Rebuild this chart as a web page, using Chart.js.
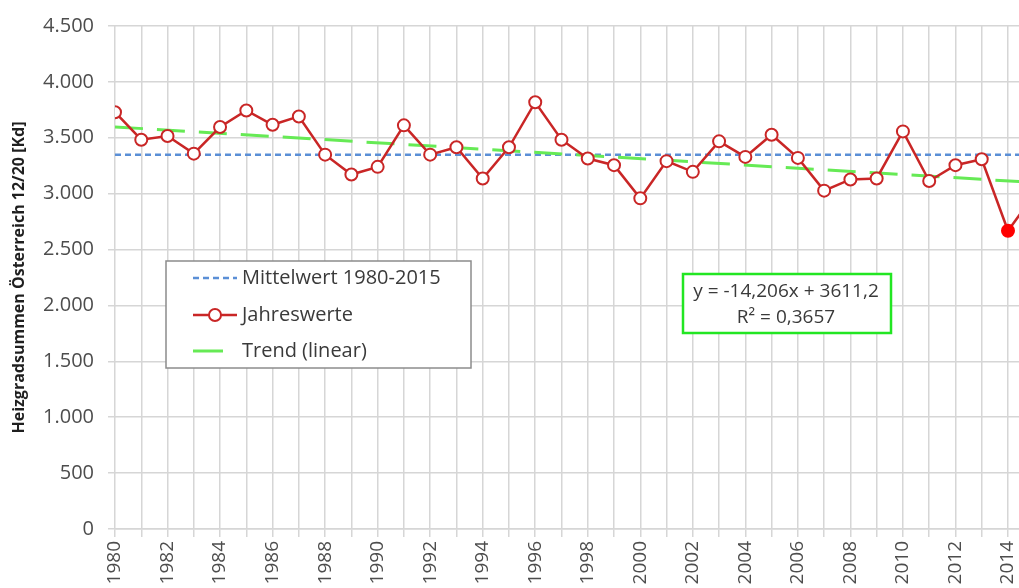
<!DOCTYPE html>
<html>
<head>
<meta charset="utf-8">
<script src="https://cdn.jsdelivr.net/npm/chart.js@4/dist/chart.umd.min.js"></script>
<style>
  html, body { margin: 0; padding: 0; background: #fff; overflow: hidden; }
  #wrap { width: 1037px; height: 588px; position: relative; }
</style>
</head>
<body>
<div id="wrap"><canvas id="chart"></canvas></div>
<script>
// DATA
const years = [1980, 1981, 1982, 1983, 1984, 1985, 1986, 1987, 1988, 1989,
               1990, 1991, 1992, 1993, 1994, 1995, 1996, 1997, 1998, 1999,
               2000, 2001, 2002, 2003, 2004, 2005, 2006, 2007, 2008, 2009,
               2010, 2011, 2012, 2013, 2014, 2015];
const jahreswerte = [3729, 3483, 3516, 3358, 3596, 3744, 3616, 3691, 3349, 3171,
                     3240, 3611, 3349, 3415, 3136, 3415, 3818, 3483, 3314, 3255,
                     2958, 3291, 3195, 3468, 3329, 3527, 3320, 3027, 3127, 3136,
                     3557, 3113, 3255, 3308, 2668, 2991];
const mittelwert = 3349;              // Mittelwert 1980-2015
const trendYears = [1980, 2015];
const trendValues = [3597, 3100];     // y = -14,206x + 3611,2
const highlightYear = 2014;
const yTicks = [0, 500, 1000, 1500, 2000, 2500, 3000, 3500, 4000, 4500];
const legendLabels = ['Mittelwert 1980-2015', 'Jahreswerte', 'Trend (linear)'];
const equationLines = ['y = -14,206x + 3611,2', 'R\u00B2 = 0,3657'];

const RED = '#c92626';
const BLUE = '#5b8fd6';
const GREEN = '#66ea55';

function fmtDe(v) {
    return String(v).replace(/\B(?=(\d{3})+(?!\d))/g, '.');
}

Chart.defaults.font.family = "'Open Sans', sans-serif";

// legend box + trendline equation, drawn like the excel ones
const boxesPlugin = {
    id: 'boxes',
    afterDatasetsDraw(chart) {
        const c = chart.ctx;
        c.save();
        // legend
        c.fillStyle = '#fff';
        c.fillRect(166, 261, 305, 107);
        c.strokeStyle = '#8c8c8c';
        c.lineWidth = 1.5;
        c.strokeRect(166, 261, 305, 107);

        c.lineWidth = 2.5;
        c.strokeStyle = BLUE;
        c.setLineDash([6, 4]);
        c.beginPath(); c.moveTo(193, 278); c.lineTo(237, 278); c.stroke();
        c.setLineDash([]);

        c.strokeStyle = RED;
        c.beginPath(); c.moveTo(193, 315); c.lineTo(237, 315); c.stroke();
        c.fillStyle = '#fff';
        c.lineWidth = 2;
        c.beginPath(); c.arc(215, 315, 6, 0, Math.PI * 2); c.fill(); c.stroke();

        c.setLineDash([]);
        c.strokeStyle = GREEN;
        c.lineWidth = 3;
        c.beginPath(); c.moveTo(193, 351); c.lineTo(223, 351); c.stroke();

        c.fillStyle = '#3a3a3a';
        c.font = "20px 'Open Sans', sans-serif";
        c.textBaseline = 'middle';
        c.textAlign = 'left';
        c.fillText(legendLabels[0], 242, 278);
        c.fillText(legendLabels[1], 242, 315);
        c.fillText(legendLabels[2], 242, 351);

        // equation box
        c.fillStyle = '#fff';
        c.fillRect(683, 274, 208, 59);
        c.strokeStyle = '#22e622';
        c.lineWidth = 2.5;
        c.strokeRect(683, 274, 208, 59);
        c.fillStyle = '#3a3a3a';
        c.font = "19px 'Open Sans', sans-serif";
        c.textAlign = 'center';
        c.fillText(equationLines[0], 786, 292);
        c.fillText(equationLines[1], 786, 318);
        c.restore();
    }
};

var ctx = document.getElementById('chart').getContext('2d');
var myChart = new Chart(ctx, {
    type: 'line',
    data: {
        datasets: [{
            label: legendLabels[1],
            data: years.map((y, i) => ({x: y, y: jahreswerte[i]})),
            borderColor: RED,
            borderWidth: 2.5,
            pointRadius: 6,
            pointBorderWidth: 2,
            pointBorderColor: c => (c.raw && c.raw.x === highlightYear) ? '#ff0000' : RED,
            pointBackgroundColor: c => (c.raw && c.raw.x === highlightYear) ? '#ff0000' : '#ffffff',
            tension: 0,
            order: 0
        },
        {
            label: legendLabels[0],
            data: [{x: years[0], y: mittelwert}, {x: years[years.length - 1], y: mittelwert}],
            borderColor: BLUE,
            borderWidth: 2.5,
            borderDash: [6, 4],
            pointRadius: 0,
            order: 2
        },
        {
            label: legendLabels[2],
            data: trendYears.map((y, i) => ({x: y, y: trendValues[i]})),
            borderColor: GREEN,
            borderWidth: 3,
            borderDash: [28, 14],
            pointRadius: 0,
            order: 1
        }]
    },
    options: {
        responsive: true,
        "maintainAspectRatio": false,
        animation: false,
        layout: { padding: { top: 23, right: 0, left: 0, bottom: 0 } },
        scales: {
            x: {
                type: 'linear',
                min: 1980,
                max: 2014.8,
                afterFit: s => { s.height = 59; },
                grid: { color: '#d6d6d6', lineWidth: 1.5, tickLength: 8 },
                border: { color: '#d6d6d6', width: 1.5 },
                ticks: {
                    stepSize: 1,
                    autoSkip: false,
                    includeBounds: false,
                    minRotation: 90,
                    maxRotation: 90,
                    padding: 4,
                    color: '#4d4d4d',
                    font: { size: 19 },
                    callback: v => (v % 2 === 0 ? String(v) : '')
                }
            },
            y: {
                min: 0,
                max: 4500,
                afterFit: s => { s.width = 115; },
                afterBuildTicks: s => { s.ticks = yTicks.map(v => ({value: v})); },
                grid: { color: '#d6d6d6', lineWidth: 1.5, tickLength: 7 },
                border: { display: false },
                ticks: {
                    padding: 14,
                    color: '#4d4d4d',
                    font: { size: 20 },
                    callback: v => fmtDe(v)
                },
                title: {
                    display: true,
                    text: 'Heizgradsummen \u00D6sterreich 12/20 [Kd]',
                    color: '#1f1f1f',
                    font: { size: 16, weight: 'bold' },
                    padding: { top: 10, bottom: 0 }
                }
            }
        },
        plugins: {
            legend: { display: false },
            tooltip: { enabled: false }
        }
    },
    plugins: [boxesPlugin]
});
</script>
</body>
</html>
